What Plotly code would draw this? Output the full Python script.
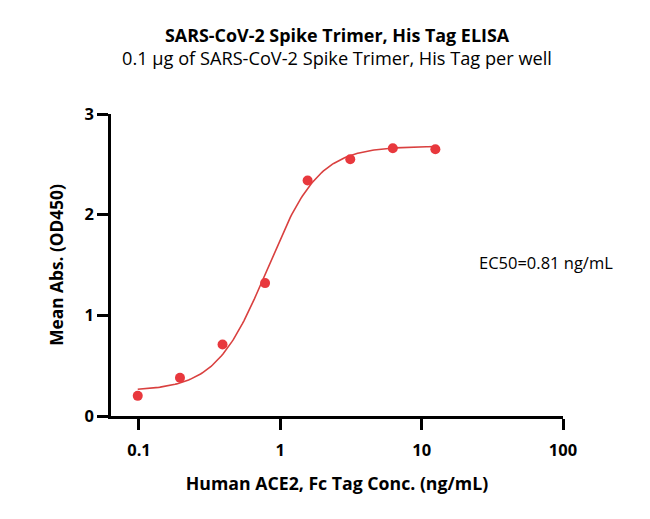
import numpy as np
import plotly.graph_objects as go

# measured points
conc = [0.098, 0.195, 0.39, 0.78, 1.56, 3.125, 6.25, 12.5]
od450 = [0.20, 0.38, 0.71, 1.32, 2.34, 2.55, 2.66, 2.65]

# 4PL fit parameters (EC50 shown on chart)
bottom = 0.25
top = 2.68
ec50 = 0.81
hill = 2.39

x_ticks = [0.1, 1, 10, 100]
x_tick_text = ["0.1", "1", "10", "100"]
y_ticks = [0, 1, 2, 3]

red = "#E8383D"
font = "Open Sans"

xfit = np.logspace(np.log10(conc[0]), np.log10(conc[-1]), 200)
yfit = bottom + (top - bottom) / (1 + (ec50 / xfit) ** hill)

fig = go.Figure()
fig.add_trace(go.Scatter(x=xfit, y=yfit, mode="lines",
                         line=dict(color="#D9403F", width=1.6), showlegend=False))
fig.add_trace(go.Scatter(x=conc, y=od450, mode="markers",
                         marker=dict(color=red, size=10), showlegend=False))

axis_common = dict(showline=True, linecolor="black", linewidth=2.5,
                   ticks="outside", ticklen=11, tickwidth=2.5, tickcolor="black",
                   showgrid=False, zeroline=False,
                   tickfont=dict(family=font, size=16.5, color="black", weight="bold"))

fig.update_xaxes(type="log", range=[-1.198, 2], tickvals=x_ticks, ticktext=x_tick_text,
                 ticklabelstandoff=6,
                 title=dict(text="<b>Human ACE2, Fc Tag Conc. (ng/mL)</b>", standoff=19,
                            font=dict(family=font, size=17.7, color="black")),
                 **axis_common)
fig.update_yaxes(range=[0, 3], tickvals=y_ticks,
                 title=dict(text="<b>Mean Abs. (OD450)</b>", standoff=17,
                            font=dict(family=font, size=17.3, color="black")),
                 **axis_common)

# page has an ~8px body margin, so everything is placed 8px up/left
fig.add_annotation(text="<b>SARS-CoV-2 Spike Trimer, His Tag ELISA</b>", x=0.5, y=1.2616,
                   xref="paper", yref="paper", showarrow=False, yanchor="middle",
                   font=dict(family=font, size=17.9, color="black"))
fig.add_annotation(text="0.1 μg of SARS-CoV-2 Spike Trimer, His Tag per well", x=0.5, y=1.185,
                   xref="paper", yref="paper", showarrow=False, yanchor="middle",
                   font=dict(family=font, size=18.2, color="black"))
fig.add_annotation(text="EC50=0.81 ng/mL", x=0.81, y=0.507, xref="paper", yref="paper",
                   showarrow=False, xanchor="left", yanchor="middle",
                   font=dict(family=font, size=16.5, color="black"))

fig.update_layout(width=650, height=519, plot_bgcolor="white", paper_bgcolor="white",
                  margin=dict(l=103, r=95, t=106, b=111))
fig.write_html("out.html")
